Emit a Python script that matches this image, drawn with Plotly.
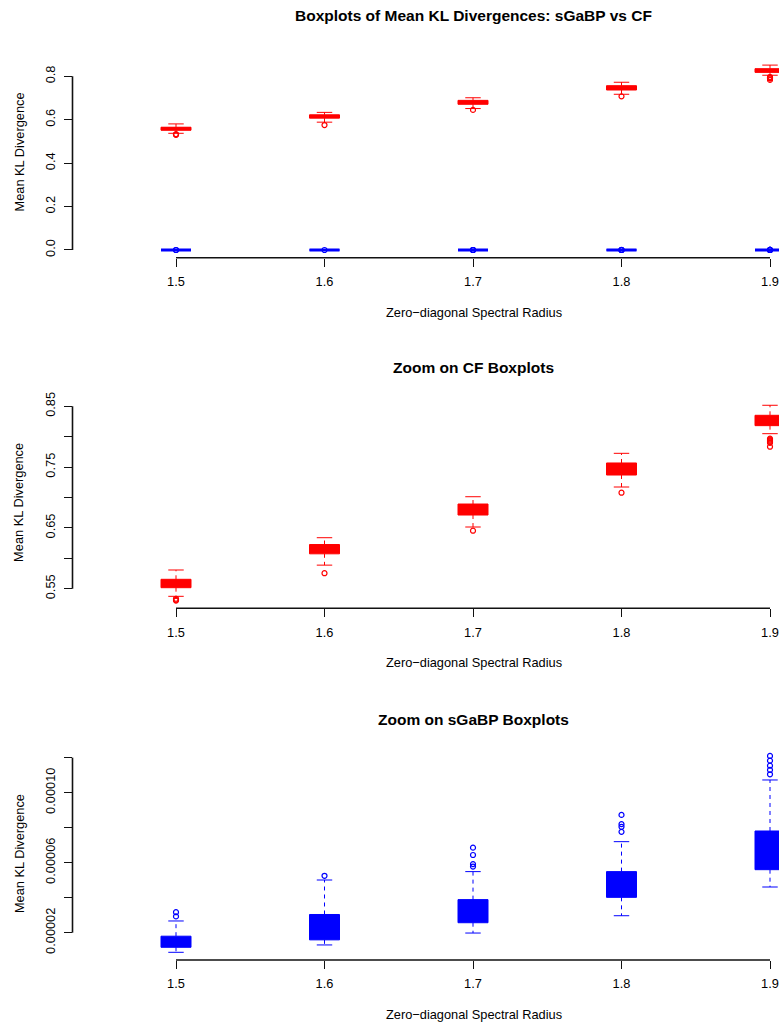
import plotly.graph_objects as go

# ---------------------------------------------------------------- data
radius = [1.5, 1.6, 1.7, 1.8, 1.9]
radius_labels = ["1.5", "1.6", "1.7", "1.8", "1.9"]

# CF: five-number summaries per spectral radius
cf_lower = [0.5375, 0.5888, 0.6515, 0.7173, 0.8050]
cf_q1 = [0.5517, 0.6074, 0.6712, 0.7370, 0.8182]
cf_median = [0.5580, 0.6145, 0.6790, 0.7460, 0.8260]
cf_q3 = [0.5655, 0.6227, 0.6893, 0.7568, 0.8352]
cf_upper = [0.5808, 0.6339, 0.7013, 0.7727, 0.8517]
cf_outliers = [
    [0.5335, 0.5318, 0.5305],
    [0.5755],
    [0.6454],
    [0.7079],
    [0.7968, 0.7952, 0.7935, 0.7918, 0.7900, 0.7836],
]

# sGaBP: five-number summaries per spectral radius
sg_lower = [8.8e-6, 1.30e-5, 1.98e-5, 2.97e-5, 4.61e-5]
sg_q1 = [1.166e-5, 1.59e-5, 2.57e-5, 4.02e-5, 5.60e-5]
sg_median = [1.45e-5, 2.20e-5, 3.10e-5, 4.60e-5, 6.60e-5]
sg_q3 = [1.80e-5, 3.04e-5, 3.89e-5, 5.49e-5, 7.81e-5]
sg_upper = [2.67e-5, 5.01e-5, 5.49e-5, 7.20e-5, 1.0725e-4]
sg_outliers = [
    [2.93e-5, 3.17e-5],
    [5.25e-5],
    [5.78e-5, 5.92e-5, 6.44e-5, 6.86e-5],
    [7.76e-5, 8.05e-5, 8.20e-5, 8.73e-5],
    [1.105e-4, 1.130e-4, 1.154e-4, 1.183e-4, 1.2097e-4],
]

panel_titles = [
    "Boxplots of Mean KL Divergences: sGaBP vs CF",
    "Zoom on CF Boxplots",
    "Zoom on sGaBP Boxplots",
]
x_title = "Zero\u2212diagonal Spectral Radius"
y_title = "Mean KL Divergence"

y1_ticks = [0.0, 0.2, 0.4, 0.6, 0.8]
y1_text = ["0.0", "0.2", "0.4", "0.6", "0.8"]
y2_ticks = [0.55, 0.60, 0.65, 0.70, 0.75, 0.80, 0.85]
y2_text = ["0.55", "", "0.65", "", "0.75", "", "0.85"]
y3_ticks = [2e-5, 4e-5, 6e-5, 8e-5, 1e-4, 1.2e-4]
y3_text = ["0.00002", "", "0.00006", "", "0.00010", ""]

# ---------------------------------------------------------------- layout constants
W, H = 779, 1022
FONT = "Liberation Sans, Arial, Helvetica, sans-serif"
RED = "#ff0000"
BLUE = "#0000ff"
HALF_BOX = 0.0101
HALF_STAPLE = 0.0052

# plot regions in pixels (top, bottom)
regions = [(47.3, 257.7), (397.5, 608.3), (748.1, 960.0)]
y_ranges = [[-0.0355, 0.9337], [0.5178, 0.8645], [4.4e-6, 1.2546e-4]]
x_left_px = 72.5
x_range = [1.4303, 1.90606]
title_px = [15.8, 367.3, 719.0]
xtitle_px = [312.0, 662.7, 1014.0]


def py(px):
    return 1 - px / H


fig = go.Figure()


def add_boxplot(xa, ya, lower, q1, med, q3, upper, outliers, color):
    for i, x in enumerate(radius):
        # box body
        fig.add_trace(go.Scatter(
            x=[x - HALF_BOX, x + HALF_BOX, x + HALF_BOX, x - HALF_BOX, x - HALF_BOX],
            y=[q1[i], q1[i], q3[i], q3[i], q1[i]],
            mode="lines", fill="toself", fillcolor=color,
            line=dict(color=color, width=1),
            xaxis=xa, yaxis=ya, showlegend=False, hoverinfo="skip"))
        # median
        fig.add_trace(go.Scatter(
            x=[x - HALF_BOX, x + HALF_BOX], y=[med[i], med[i]],
            mode="lines", line=dict(color=color, width=3),
            xaxis=xa, yaxis=ya, showlegend=False, hoverinfo="skip"))
        # dashed whiskers
        fig.add_trace(go.Scatter(
            x=[x, x, None, x, x], y=[q3[i], upper[i], None, q1[i], lower[i]],
            mode="lines", line=dict(color=color, width=1, dash="4px,4px"),
            xaxis=xa, yaxis=ya, showlegend=False, hoverinfo="skip"))
        # staples
        fig.add_trace(go.Scatter(
            x=[x - HALF_STAPLE, x + HALF_STAPLE, None, x - HALF_STAPLE, x + HALF_STAPLE],
            y=[upper[i], upper[i], None, lower[i], lower[i]],
            mode="lines", line=dict(color=color, width=1),
            xaxis=xa, yaxis=ya, showlegend=False, hoverinfo="skip"))
    ox, oy = [], []
    for x, pts in zip(radius, outliers):
        ox += [x] * len(pts)
        oy += pts
    fig.add_trace(go.Scatter(
        x=ox, y=oy, mode="markers",
        marker=dict(symbol="circle-open", size=5, color=color, line=dict(width=1.2, color=color)),
        xaxis=xa, yaxis=ya, showlegend=False, hoverinfo="skip"))


# panel 1: both methods
add_boxplot("x", "y", cf_lower, cf_q1, cf_median, cf_q3, cf_upper, cf_outliers, RED)
add_boxplot("x", "y", sg_lower, sg_q1, sg_median, sg_q3, sg_upper, sg_outliers, BLUE)
# panel 2: CF only
add_boxplot("x2", "y2", cf_lower, cf_q1, cf_median, cf_q3, cf_upper, cf_outliers, RED)
# panel 3: sGaBP only
add_boxplot("x3", "y3", sg_lower, sg_q1, sg_median, sg_q3, sg_upper, sg_outliers, BLUE)

axis_common = dict(
    showgrid=False, zeroline=False, showline=False,
    ticks="outside", ticklen=8, tickwidth=1.3, tickcolor="#111111",
    tickfont=dict(family=FONT, size=12.8, color="#000000"),
    automargin=False,
)

layout = dict(
    width=W, height=H,
    margin=dict(l=0, r=0, t=0, b=0),
    paper_bgcolor="white", plot_bgcolor="white",
    showlegend=False,
)

ytick_sets = [(y1_ticks, y1_text), (y2_ticks, y2_text), (y3_ticks, y3_text)]
shapes, annotations = [], []
for k in range(3):
    sfx = "" if k == 0 else str(k + 1)
    top, bot = regions[k]
    layout["xaxis" + sfx] = dict(
        axis_common, domain=[x_left_px / W, 1.0], range=x_range,
        tickvals=radius, ticktext=radius_labels,
        anchor="y" + sfx, ticklabelstandoff=4)
    tv, tt = ytick_sets[k]
    layout["yaxis" + sfx] = dict(
        axis_common, domain=[py(bot), py(top)], range=y_ranges[k],
        tickvals=tv, ticktext=tt, tickangle=-90,
        anchor="x" + sfx, ticklabelstandoff=3)
    # axis lines spanning the tick range only
    shapes.append(dict(type="line", xref="x" + sfx, yref="y" + sfx + " domain",
                       x0=radius[0], x1=radius[-1], y0=0, y1=0,
                       line=dict(color="#111111", width=1.6)))
    shapes.append(dict(type="line", xref="x" + sfx + " domain", yref="y" + sfx,
                       x0=0, x1=0, y0=tv[0], y1=tv[-1],
                       line=dict(color="#111111", width=1.6)))
    # titles
    annotations.append(dict(text="<b>" + panel_titles[k] + "</b>", xref="paper", yref="paper",
                            x=473.5 / W, y=py(title_px[k]), xanchor="center", yanchor="middle",
                            showarrow=False, font=dict(family=FONT, size=15.5, color="#000000")))
    annotations.append(dict(text=x_title, xref="paper", yref="paper",
                            x=473.5 / W, y=py(xtitle_px[k]), xanchor="center", yanchor="middle",
                            showarrow=False, font=dict(family=FONT, size=12.8, color="#000000")))
    annotations.append(dict(text=y_title, xref="paper", yref="paper", textangle=-90,
                            x=19 / W, y=py((top + bot) / 2), xanchor="center", yanchor="middle",
                            showarrow=False, font=dict(family=FONT, size=12.8, color="#000000")))

layout["shapes"] = shapes
layout["annotations"] = annotations
fig.update_layout(**layout)

fig.write_html("out.html", config={"displayModeBar": False})
